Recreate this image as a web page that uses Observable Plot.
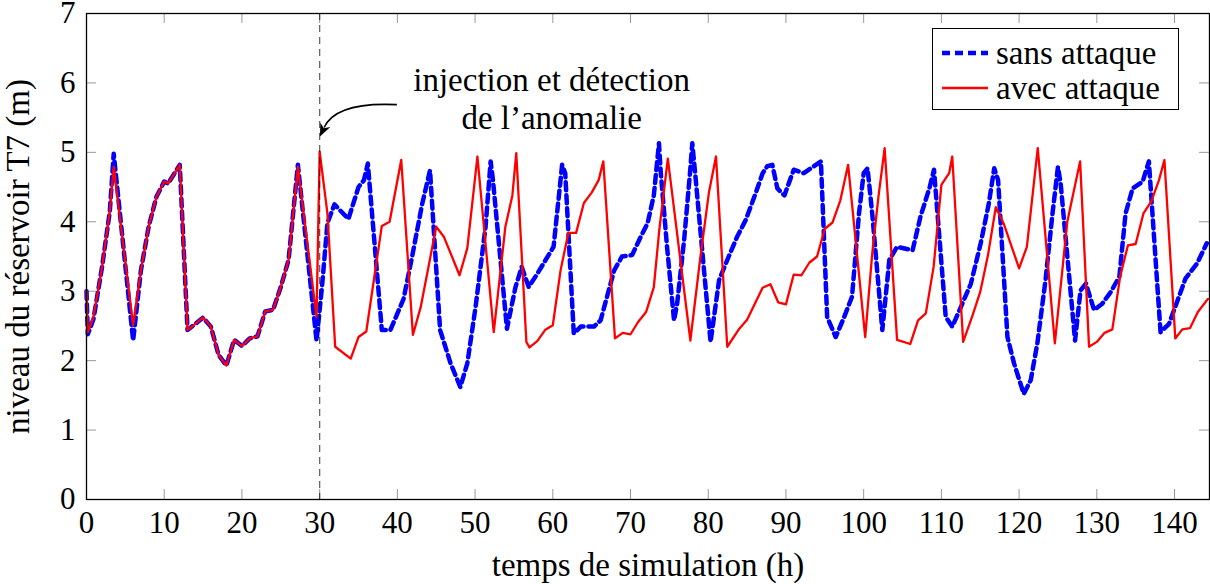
<!DOCTYPE html>
<html><head><meta charset="utf-8">
<script src="https://cdn.jsdelivr.net/npm/d3@7"></script>
<script src="https://cdn.jsdelivr.net/npm/@observablehq/plot@0.6"></script>
<style>
body{margin:0;background:#fff;}
#wrap{position:relative;width:1210px;height:584px;font-family:"Liberation Serif","DejaVu Serif",serif;}
#wrap svg text{font-family:"Liberation Serif","DejaVu Serif",serif;}
#legend{position:absolute;left:932px;top:28px;width:247px;height:82px;border:1.3px solid #000;background:#fff;box-sizing:border-box;}
.row{position:absolute;left:0;height:34px;display:flex;align-items:center;font-size:33px;line-height:34px;color:#000;white-space:nowrap;}
.row svg{margin-left:9px;margin-right:8px;}
</style></head><body><div id="wrap"></div>
<script>
// temps de simulation (h) / niveau (m)
const tSans = [0,0.17,0.9,2,3,3.5,6,7,8,9,10,10.5,12,13,15,16,17,18,19,20,21,22,23,24,25,26,27.2,29.6,30.3,31,31.9,33.7,35,35.7,36.2,38,39.1,40.8,41.9,43.2,44.2,45.5,46.85,48.1,49,50.06,51.35,52,52.3,54.1,55.2,56,56.9,58,60.1,61.2,61.6,62.7,63.6,65.3,66.15,67.9,68.9,70.2,71.3,72.2,73,73.66,73.9,74.7,75.6,76,76.9,77.65,77.95,78.4,80.3,81.4,82.45,83.7,84.8,86.1,87,87.6,88.25,88.9,89.8,91,92.3,94.5,95.3,96.4,97.5,98.5,99.4,100,100.5,101.1,102.4,103.3,104.3,106.3,107.3,108.5,109.05,110.56,111.4,112.5,113.8,115.06,116.1,116.8,117.3,118.5,119.35,120.6,121.5,122.35,123.4,124.3,125,125.35,127.2,127.9,128.6,129.65,130.7,131.8,132.9,133.7,134.6,135.9,136.7,138.2,139.3,140.4,141.4,142.9,144.15];
const vSans = [3.0,2.38,2.6,3.35,4.15,4.98,2.29,3.30,3.93,4.36,4.58,4.55,4.82,2.44,2.62,2.49,2.08,1.93,2.30,2.21,2.32,2.35,2.71,2.73,3.06,3.45,4.82,2.29,3.06,3.98,4.25,4.04,4.5,4.6,4.84,2.44,2.44,2.89,3.5,4.26,4.74,2.44,1.96,1.62,1.96,2.77,3.93,4.87,4.6,2.46,3.06,3.35,3.06,3.25,3.64,4.82,4.7,2.39,2.49,2.49,2.58,3.30,3.5,3.52,3.78,3.98,4.38,5.13,4.7,3.64,2.58,2.82,3.74,4.7,5.13,4.6,2.27,3.16,3.45,3.78,4.02,4.41,4.7,4.8,4.82,4.48,4.38,4.75,4.7,4.87,2.63,2.34,2.63,2.92,4.12,4.7,4.77,4.12,2.44,3.45,3.64,3.59,4.07,4.5,4.75,2.63,2.49,2.77,3.11,3.69,4.26,4.77,4.6,2.34,1.96,1.52,1.72,2.25,3.16,4.12,4.79,4.55,2.29,3.01,3.11,2.73,2.82,2.99,3.21,4.12,4.48,4.58,4.87,2.41,2.53,2.87,3.18,3.4,3.69];
const tAvec = [0,0.17,0.9,2,3,3.5,6,7,8,9,10,10.5,12,13,15,16,17,18,19,20,21,22,23,24,25,26,27.2,29.6,30,31,32,34,35,36,38,39,40.5,42,43,44,45,46,48,49,50.3,52.4,53.9,54.8,55.3,56.6,57,58,59,60,61,62,63,64,65,65.9,66.5,68,69,70,71,72,73,73.7,74.8,77.7,79,80.1,81,82.45,84,85,86,87,88,89,90,91,92,93,94,95,96,97,98,100.2,101.1,101.9,102.7,104.3,106,107,108,109,110,111,111.4,112.8,114,115,116,117,118,120,121,122.4,124.6,126.2,127.85,129,130,131,132,133,134,135,136,137,138,138.7,140.1,141,142,143,144.3];
const vAvec = [3.0,2.41,2.63,3.35,4.15,4.79,2.51,3.30,3.93,4.36,4.58,4.55,4.82,2.44,2.62,2.49,2.08,1.93,2.30,2.21,2.32,2.35,2.71,2.73,3.06,3.45,4.79,2.63,5.01,4.12,2.2,2.03,2.34,2.42,3.94,4.0,4.89,2.37,2.77,3.35,3.93,3.78,3.23,3.62,4.94,2.41,3.93,4.38,4.99,2.27,2.19,2.28,2.44,2.51,3.30,3.84,3.84,4.27,4.42,4.6,4.87,2.32,2.4,2.38,2.56,2.7,3.06,3.88,4.91,2.29,3.5,4.43,4.94,2.2,2.46,2.59,2.82,3.05,3.1,2.84,2.81,3.24,3.23,3.41,3.5,3.9,3.99,4.31,4.82,2.34,3.54,4.36,5.06,2.30,2.24,2.58,2.68,3.35,4.53,4.70,4.94,2.27,2.65,2.99,3.52,4.21,3.98,3.33,3.64,5.06,2.25,4.0,4.87,2.2,2.27,2.4,2.45,3.21,3.66,3.68,4.12,4.29,4.6,4.89,2.32,2.45,2.47,2.7,2.89];
const xTicks = [0,10,20,30,40,50,60,70,80,90,100,110,120,130,140];
const yTicks = [0,1,2,3,4,5,6,7];
const seriesNames = ["sans attaque","avec attaque"];
const injectionTime = [30];
const annotationText = ["injection et détection\nde l’anomalie"];

const W=1210,H=584,mL=86,mR=1,mT=13,mB=85;
const fw=W-mL-mR, fh=H-mT-mB;
const sans = tSans.map((t,i)=>({t, v:vSans[i]}));
const avec = tAvec.map((t,i)=>({t, v:vAvec[i]}));

function arrowMark(index, scales) {
  const x = scales.x, y = scales.y;
  const S = [x(40.0), y(5.68)], E = [x(30.1), y(5.22)];
  const C1 = [S[0]-40, S[1]-2], C2 = [E[0]+12, E[1]-26];
  const dx = E[0]-C2[0], dy = E[1]-C2[1], L = Math.hypot(dx,dy);
  const ux = dx/L, uy = dy/L, hl = 13, hw = 5.5;
  const B = [E[0]-ux*hl, E[1]-uy*hl];
  const g = d3.create("svg:g");
  g.append("path").attr("d", `M${S}C${C1} ${C2} ${B[0]+ux*3},${B[1]+uy*3}`)
    .attr("fill","none").attr("stroke","#000").attr("stroke-width",1.6);
  const N = [-uy, ux];
  const notch = [E[0]-ux*hl*0.7, E[1]-uy*hl*0.7];
  g.append("path").attr("d", `M${E}L${B[0]+N[0]*hw},${B[1]+N[1]*hw}L${notch}L${B[0]-N[0]*hw},${B[1]-N[1]*hw}Z`)
    .attr("fill","#000");
  return g.node();
}

const fontStack = "Liberation Serif, DejaVu Serif, serif";
const chart = Plot.plot({
  width: W, height: H, marginLeft: mL, marginRight: mR, marginTop: mT, marginBottom: mB,
  style: {fontFamily: fontStack, fontSize: "31px", color: "#000", background: "#fff", overflow: "visible"},
  x: {domain: [0,144.5]},
  y: {domain: [0,7]},
  marks: [
    Plot.ruleX(xTicks, {stroke:"#999", strokeWidth:1, insetTop: fh-10}),
    Plot.ruleX(xTicks, {stroke:"#999", strokeWidth:1, insetBottom: fh-10}),
    Plot.ruleY(yTicks, {stroke:"#999", strokeWidth:1, insetRight: fw-10}),
    Plot.ruleY(yTicks, {stroke:"#999", strokeWidth:1, insetLeft: fw-10}),
    Plot.axisX({ticks: xTicks, tickFormat: d => String(d), tickSize: 0, tickPadding: 11, label: null, fontSize: 31, fontFamily: fontStack}),
    Plot.axisX({ticks: [], label: "temps de simulation (h)", labelAnchor: "center", labelOffset: 76, labelArrow: false, fontSize: 33, fontFamily: fontStack}),
    Plot.axisY({ticks: yTicks, tickFormat: d => String(d), tickSize: 0, tickPadding: 11, label: null, fontSize: 31, fontFamily: fontStack}),
    Plot.axisY({ticks: [], label: "niveau du réservoir T7 (m)", labelAnchor: "center", labelOffset: 81, labelArrow: false, fontSize: 33, fontFamily: fontStack}),
    Plot.line(sans, {x:"t", y:"v", stroke:"#0000ff", strokeWidth:4.5, strokeDasharray:"8,5"}),
    Plot.line(avec, {x:"t", y:"v", stroke:"#ff0000", strokeWidth:2.3}),
    Plot.ruleX(injectionTime, {x: d=>d, stroke:"#000", strokeOpacity:0.6, strokeDasharray:"7,5", strokeWidth:1.3}),
    Plot.text(annotationText, {x: ()=>59.85, y: ()=>5.78, text: d=>d, fontSize: 33, lineHeight: 1.15, fill:"#000", fontFamily: fontStack}),
    arrowMark,
    Plot.frame({stroke:"#000", strokeWidth:1.3})
  ]
});
const wrap = document.getElementById("wrap");
wrap.appendChild(chart);

const legend = document.createElement("div");
legend.id = "legend";
const styles = [{stroke:"#0000ff", w:4.5, dash:"8,5"}, {stroke:"#ff0000", w:2.3, dash:null}];
seriesNames.forEach((name,i)=>{
  const row = document.createElement("div");
  row.className = "row";
  row.style.top = (i===0 ? 7 : 42) + "px";
  const s = styles[i];
  row.innerHTML = `<svg width="46" height="10"><line x1="0" y1="5" x2="46" y2="5" stroke="${s.stroke}" stroke-width="${s.w}" ${s.dash?`stroke-dasharray="${s.dash}"`:""}/></svg><span>${name}</span>`;
  legend.appendChild(row);
});
wrap.appendChild(legend);
</script>
</body></html>
